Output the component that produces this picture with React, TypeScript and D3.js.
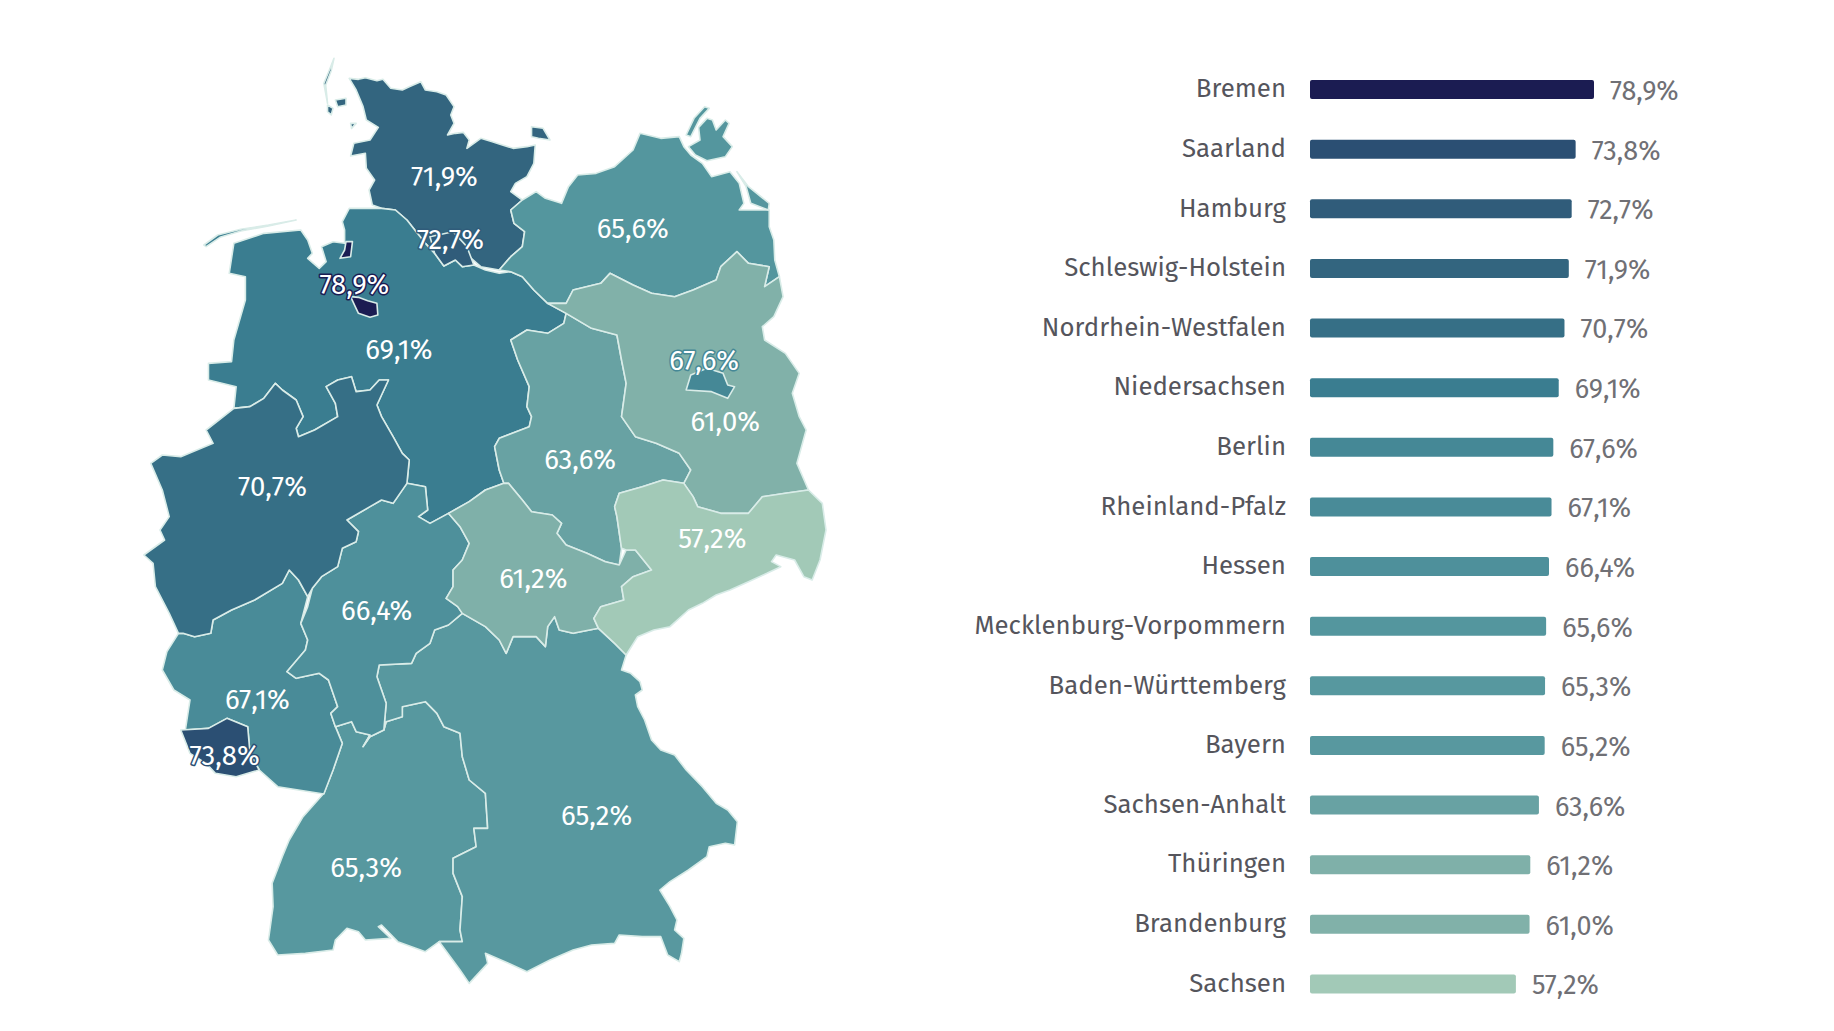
import React from "react";
import * as d3 from "d3";

type P = [number, number];

const states = ["Bremen","Saarland","Hamburg","Schleswig-Holstein","Nordrhein-Westfalen","Niedersachsen","Berlin","Rheinland-Pfalz","Hessen","Mecklenburg-Vorpommern","Baden-Württemberg","Bayern","Sachsen-Anhalt","Thüringen","Brandenburg","Sachsen"];
const shares = [78.9,73.8,72.7,71.9,70.7,69.1,67.6,67.1,66.4,65.6,65.3,65.2,63.6,61.2,61.0,57.2];

// map label anchors in picture units
const labelAnchors: Record<string, P> = {
  "Schleswig-Holstein":[380,151],"Hamburg":[385,205],"Bremen":[303,243.5],"Mecklenburg-Vorpommern":[541,195.5],
  "Niedersachsen":[341,298.5],"Berlin":[602,308.5],"Brandenburg":[620,360.5],"Sachsen-Anhalt":[496,392.5],
  "Nordrhein-Westfalen":[233,415.5],"Sachsen":[609,460.5],"Thüringen":[456,494.5],"Hessen":[322,521.5],
  "Rheinland-Pfalz":[220,598],"Saarland":[192,645.5],"Bayern":[510,697.5],"Baden-Württemberg":[313,741.5],
};

const SH: P[] = [[475,115],[495,118],[510,113],[535,122],[548,118],[565,145],[590,150],[605,140],[630,125],[640,150],[665,155],[685,165],[702,200],[695,225],[702,250],[688,285],[705,280],[722,277],[735,300],[730,325],[760,295],[785,305],[800,312],[830,325],[860,320],[878,315],[875,370],[860,410],[835,430],[825,455],[850,480],[825,510],[832,550],[855,575],[850,620],[825,650],[800,690],[760,680],[735,650],[660,640],[640,610],[620,575],[600,540],[575,510],[545,505],[525,495],[518,450],[530,420],[512,385],[510,340],[478,348],[485,310],[520,300],[538,262],[512,240],[505,200],[490,150]];
const fehmarn: P[] = [[870,260],[895,265],[910,300],[885,295],[870,290]];
const foehr: P[] = [[445,180],[468,175],[468,195],[450,200]];
const pellworm: P[] = [[478,250],[490,250],[480,265]];
const sylt: P[] = [[442,55],[432,90],[420,130],[428,190],[424,135],[436,92]];
const amrum: P[] = [[428,195],[440,205],[436,225],[428,215]];
const HH: P[] = [[650,590],[700,575],[730,620],[745,675],[720,680],[705,660],[680,678],[660,640]];
const NI: P[] = [[475,505],[545,505],[575,510],[600,540],[620,575],[640,610],[660,640],[680,678],[705,660],[720,680],[745,675],[770,690],[800,700],[825,695],[850,710],[875,750],[905,790],[945,820],[940,850],[905,880],[860,870],[825,900],[840,960],[865,1040],[860,1100],[870,1130],[865,1160],[800,1195],[790,1220],[800,1290],[810,1330],[770,1350],[735,1385],[690,1420],[650,1450],[625,1430],[645,1410],[640,1340],[600,1330],[605,1260],[590,1240],[570,1190],[545,1130],[535,1095],[560,1020],[540,1020],[520,1050],[490,1055],[480,1010],[450,1020],[425,1040],[445,1090],[450,1130],[400,1170],[365,1190],[360,1165],[375,1130],[360,1080],[330,1050],[315,1030],[290,1075],[260,1100],[225,1105],[230,1040],[170,1020],[170,970],[220,965],[225,900],[250,780],[250,710],[215,700],[225,610],[290,580],[370,570],[385,600],[395,640],[385,655],[410,685],[425,665],[415,620],[440,605],[465,610],[465,570],[460,545]];
const wangerooge: P[] = [[160,615],[190,585],[240,568],[300,555],[360,540],[300,558],[240,573],[195,592],[165,620]];
const HB1: P[] = [[468,605],[482,605],[478,650],[455,655],[465,630]];
const HB2: P[] = [[478,770],[495,772],[515,782],[535,790],[537,825],[520,832],[495,820],[488,800]];
const MV: P[] = [[800,690],[825,650],[850,620],[855,575],[832,550],[825,510],[850,480],[880,455],[900,475],[935,490],[950,440],[970,405],[1010,400],[1050,380],[1090,330],[1105,280],[1150,295],[1190,290],[1200,320],[1215,345],[1240,370],[1260,410],[1300,395],[1320,430],[1330,490],[1320,510],[1385,510],[1385,560],[1395,600],[1397,660],[1407,710],[1375,740],[1385,680],[1340,670],[1315,635],[1280,680],[1270,720],[1220,750],[1180,770],[1130,760],[1090,735],[1040,700],[1020,730],[960,750],[945,790],[905,790],[875,750],[850,710],[825,695]];
const ruegen: P[] = [[1232,262],[1250,235],[1262,240],[1270,270],[1290,240],[1298,250],[1285,290],[1305,320],[1290,350],[1250,362],[1225,345],[1210,320],[1235,300]];
const wittow: P[] = [[1205,285],[1222,235],[1245,200],[1255,205],[1235,235],[1215,290]];
const usedom: P[] = [[1315,395],[1340,440],[1385,490],[1383,510],[1345,490],[1335,440]];
const BB: P[] = [[905,790],[945,790],[960,750],[1020,730],[1040,700],[1090,735],[1130,760],[1180,770],[1220,750],[1270,720],[1280,680],[1315,635],[1340,670],[1385,680],[1375,740],[1407,710],[1415,770],[1395,830],[1370,860],[1375,900],[1420,940],[1450,1000],[1435,1060],[1450,1130],[1465,1170],[1445,1270],[1470,1350],[1420,1360],[1370,1370],[1340,1420],[1280,1420],[1230,1400],[1220,1370],[1200,1330],[1215,1290],[1190,1240],[1140,1210],[1095,1190],[1065,1130],[1075,1030],[1065,960],[1055,885],[1000,865],[945,820]];
const BE: P[] = [[1205,1050],[1215,1005],[1250,985],[1285,1000],[1295,1035],[1310,1040],[1295,1075],[1260,1055]];
const ST: P[] = [[945,820],[1000,865],[1055,885],[1065,960],[1075,1030],[1065,1130],[1095,1190],[1140,1210],[1190,1240],[1215,1290],[1200,1330],[1155,1320],[1110,1340],[1060,1360],[1050,1400],[1055,1430],[1065,1525],[1060,1575],[1030,1565],[990,1540],[945,1515],[925,1480],[935,1450],[915,1425],[870,1415],[850,1380],[820,1330],[810,1330],[800,1290],[790,1220],[800,1195],[865,1160],[870,1130],[860,1100],[865,1040],[840,960],[825,900],[860,870],[905,880],[940,850]];
const SN: P[] = [[1060,1360],[1110,1340],[1155,1320],[1200,1330],[1220,1370],[1230,1400],[1280,1420],[1340,1420],[1370,1370],[1420,1360],[1470,1350],[1500,1390],[1508,1470],[1495,1560],[1478,1620],[1460,1610],[1440,1560],[1400,1545],[1390,1565],[1410,1580],[1380,1600],[1340,1625],[1300,1650],[1270,1665],[1240,1690],[1210,1710],[1170,1760],[1135,1770],[1100,1790],[1075,1845],[1050,1810],[1015,1765],[1005,1735],[1020,1700],[1070,1680],[1065,1640],[1090,1610],[1130,1590],[1095,1530],[1075,1530],[1065,1525],[1055,1430],[1050,1400]];
const TH: P[] = [[690,1420],[735,1385],[770,1350],[810,1330],[820,1330],[850,1380],[870,1415],[915,1425],[935,1450],[925,1480],[945,1515],[990,1540],[1030,1565],[1060,1575],[1075,1530],[1095,1530],[1130,1590],[1090,1610],[1065,1640],[1070,1680],[1020,1700],[1005,1735],[1015,1765],[960,1780],[930,1770],[920,1730],[905,1760],[900,1820],[880,1790],[830,1790],[815,1840],[800,1800],[770,1760],[720,1720],[710,1700],[685,1675],[700,1640],[700,1590],[720,1560],[735,1510],[715,1460]];
const HE: P[] = [[470,1440],[520,1400],[545,1380],[570,1390],[600,1330],[640,1340],[645,1410],[625,1430],[650,1450],[690,1420],[715,1460],[735,1510],[720,1560],[700,1590],[700,1640],[685,1675],[710,1700],[720,1720],[690,1755],[660,1770],[650,1810],[620,1840],[610,1870],[540,1875],[535,1910],[555,1990],[550,2070],[520,2090],[505,2120],[520,2085],[490,2075],[480,2045],[445,2060],[435,2020],[450,2000],[430,1920],[410,1900],[360,1915],[340,1895],[380,1830],[385,1800],[370,1750],[385,1700],[395,1645],[415,1610],[450,1580],[460,1525],[490,1505],[495,1475]];
const NW: P[] = [[225,1105],[260,1100],[290,1075],[315,1030],[330,1050],[360,1080],[375,1130],[360,1165],[365,1190],[400,1170],[450,1130],[445,1090],[425,1040],[450,1020],[480,1010],[490,1055],[520,1050],[540,1020],[560,1020],[535,1095],[545,1130],[570,1190],[590,1240],[605,1260],[600,1330],[570,1390],[545,1380],[520,1400],[470,1440],[495,1475],[490,1505],[460,1525],[450,1580],[415,1610],[395,1645],[385,1670],[365,1620],[345,1590],[330,1630],[270,1680],[220,1710],[180,1740],[175,1780],[140,1790],[115,1780],[105,1780],[85,1720],[55,1640],[50,1570],[30,1545],[75,1500],[65,1470],[85,1430],[70,1350],[45,1270],[70,1245],[110,1250],[180,1210],[165,1170]];
const RP: P[] = [[105,1780],[115,1780],[140,1790],[175,1780],[180,1740],[220,1710],[270,1680],[330,1630],[345,1590],[365,1620],[385,1670],[370,1750],[385,1800],[380,1830],[340,1895],[360,1915],[410,1900],[430,1920],[450,2000],[435,2020],[445,2060],[460,2110],[440,2190],[420,2262],[320,2240],[280,2190],[260,2140],[255,2060],[210,2035],[170,2065],[120,2070],[130,1980],[95,1950],[70,1890],[80,1835]];
const SL: P[] = [[110,2070],[170,2065],[210,2035],[255,2060],[260,2140],[280,2190],[230,2210],[185,2200],[165,2170],[130,2140]];
const BW: P[] = [[445,2060],[480,2045],[490,2075],[520,2085],[505,2120],[520,2090],[550,2070],[555,2045],[590,2030],[590,2000],[640,1985],[665,2020],[680,2060],[715,2080],[720,2150],[735,2220],[770,2260],[775,2365],[745,2365],[750,2420],[700,2455],[700,2500],[720,2570],[715,2670],[720,2705],[670,2705],[640,2735],[610,2720],[580,2705],[545,2655],[538,2660],[565,2695],[510,2700],[495,2675],[470,2665],[445,2700],[440,2730],[380,2740],[320,2745],[300,2700],[310,2600],[308,2530],[330,2450],[345,2400],[375,2330],[420,2260],[440,2190],[460,2110]];
const BY: P[] = [[720,1720],[770,1760],[800,1800],[815,1840],[830,1790],[880,1790],[900,1820],[905,1760],[920,1730],[930,1770],[960,1780],[1015,1765],[1050,1810],[1075,1845],[1065,1890],[1085,1900],[1105,1925],[1110,1950],[1095,1965],[1100,2000],[1115,2040],[1130,2100],[1150,2130],[1180,2145],[1205,2190],[1240,2240],[1270,2290],[1295,2310],[1316,2345],[1310,2415],[1290,2410],[1255,2420],[1250,2450],[1210,2490],[1170,2525],[1148,2550],[1170,2600],[1185,2640],[1180,2670],[1200,2695],[1195,2740],[1190,2765],[1165,2745],[1150,2690],[1110,2690],[1060,2685],[1050,2710],[1000,2715],[960,2730],[910,2760],[860,2795],[820,2770],[770,2740],[775,2770],[735,2830],[715,2790],[670,2705],[720,2705],[715,2670],[720,2570],[700,2500],[700,2455],[750,2420],[745,2365],[775,2365],[770,2260],[735,2220],[720,2150],[715,2080],[680,2060],[665,2020],[640,1985],[590,2000],[590,2030],[555,2045],[550,2070],[555,1990],[535,1910],[540,1875],[610,1870],[620,1840],[650,1810],[660,1770],[690,1755]];

const outlines: [string, P[]][] = [
  ["Schleswig-Holstein",SH],["Schleswig-Holstein",fehmarn],["Schleswig-Holstein",foehr],["Schleswig-Holstein",pellworm],["Schleswig-Holstein",sylt],["Schleswig-Holstein",amrum],
  ["Niedersachsen",wangerooge],["Niedersachsen",NI],
  ["Mecklenburg-Vorpommern",MV],["Mecklenburg-Vorpommern",ruegen],["Mecklenburg-Vorpommern",wittow],["Mecklenburg-Vorpommern",usedom],
  ["Baden-Württemberg",BW],["Bayern",BY],["Rheinland-Pfalz",RP],["Hessen",HE],["Nordrhein-Westfalen",NW],
  ["Sachsen-Anhalt",ST],["Brandenburg",BB],["Thüringen",TH],["Sachsen",SN],
  ["Hamburg",HH],["Bremen",HB1],["Bremen",HB2],["Berlin",BE],["Saarland",SL],
];

const color = d3.scaleLinear<string>()
  .domain([57.2,61,65.4,69.1,71.9,73.8,78.9])
  .range(["#a2c9b7","#81b1a9","#56979f","#3a7d90","#33657f","#2b4f73","#1b1c52"]);

const W = 1834, H = 1031;
const mapX = d3.scaleLinear().domain([0,1560]).range([130,850]);
const mapY = d3.scaleLinear().domain([0,1500]).range([40,540]);
const pic = d3.scaleLinear().domain([0,1568]).range([0,W]);
const barW = d3.scaleLinear().domain([0,78.9]).range([0,284]);
const rowY = d3.scalePoint<string>().domain(states).range([89.5,984]);
const line = d3.line<P>().x(d=>mapX(d[0])).y(d=>mapY(d[1])).curve(d3.curveLinearClosed);
const fmt = (v:number)=>v.toFixed(1).replace(".",",")+"%";
const valueOf = (s:string)=>shares[states.indexOf(s)];
const FONT = "'Fira Sans', Lato, 'Noto Sans', sans-serif";
const haloed = new Set(["Bremen","Saarland","Berlin","Hamburg"]);

export default function App(){
  return (
    <svg width={W} height={H} style={{position:"absolute",left:0,top:0,background:"#fff"}} fontFamily={FONT}>
      <g>
        {outlines.map(([s,pts],i)=>(
          <path key={i} d={line(pts)!} fill={color(valueOf(s))} stroke="#d9ece8" strokeWidth={1.6} strokeLinejoin="round"/>
        ))}
      </g>
      <g>
        {states.map(s=>{
          const [lx,ly]=labelAnchors[s];
          const dark = color(valueOf(s));
          return <text key={s} x={pic(lx)} y={pic(ly)} dy="0.35em" textAnchor="middle" fontSize={27.5} fill="#fff"
            stroke={haloed.has(s)?dark:"none"} strokeWidth={haloed.has(s)?3:0} paintOrder="stroke" strokeLinejoin="round">{fmt(valueOf(s))}</text>;
        })}
      </g>
      <g>
        {states.map((s,i)=>{
          const y=rowY(s)!;
          return <g key={s}>
            <text x={1286} y={y-0.5} dy="0.32em" textAnchor="end" fontSize={25.8} fill="#55555c">{s}</text>
            <rect x={1310} y={y-9.5} width={barW(shares[i])} height={19} rx={2} fill={color(shares[i])}/>
            <text x={1310+barW(shares[i])+16} y={y+1} dy="0.35em" fontSize={27} fill="#707075">{fmt(shares[i])}</text>
          </g>;
        })}
      </g>
    </svg>
  );
}
